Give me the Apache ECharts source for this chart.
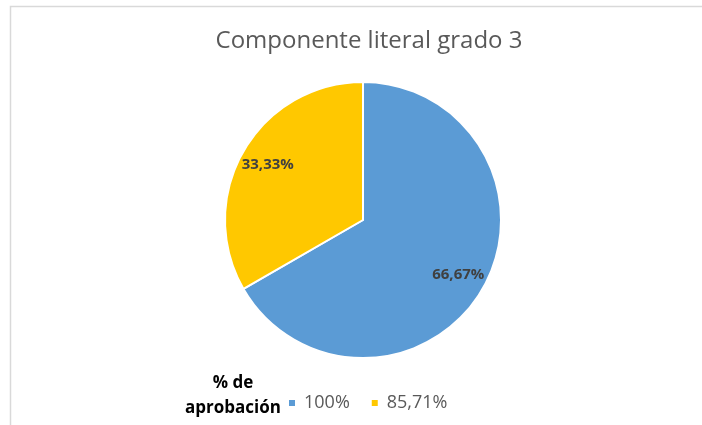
<!DOCTYPE html>
<html>
<head>
<meta charset="utf-8">
<script src="https://cdn.jsdelivr.net/npm/echarts@6/dist/echarts.min.js"></script>
<style>
  html, body { margin: 0; padding: 0; background: #fff; }
  #chart { width: 702px; height: 425px; }
</style>
</head>
<body>
<div id="chart"></div>
<script>
// Componente literal grado 3
const categories = ["100%", "85,71%"];
const values = [66.67, 33.33];
const colors = ["#5B9BD5", "#FFC800"];

const font = "'Open Sans', 'Noto Sans', sans-serif";
const pieData = categories.map((name, i) => ({
  name: name,
  value: values[i],
  itemStyle: { color: colors[i] },
}));

const chart = echarts.init(document.getElementById("chart"));
chart.setOption({
  backgroundColor: "#fff",
  animation: false,
  graphic: [
    {
      type: "rect",
      shape: { x: 10.5, y: 6.5, width: 800, height: 500 },
      style: { fill: "none", stroke: "#d9d9d9", lineWidth: 1.5 },
      silent: true,
    },
  ],
  title: [
    {
      text: "Componente literal grado 3",
      left: 364,
      top: 24,
      textAlign: "center",
      textStyle: { color: "#595959", fontSize: 24, fontWeight: "normal", fontFamily: font },
    },
    {
      text: "% de\naprobación",
      left: 228,
      top: 366,
      textAlign: "center",
      textStyle: { color: "#000", fontSize: 17, fontWeight: "bold", fontFamily: font, lineHeight: 25 },
    },
  ],
  legend: {
    data: categories,
    left: 282,
    top: 389,
    icon: "rect",
    itemWidth: 8,
    itemHeight: 8,
    itemGap: 20,
    textStyle: { color: "#595959", fontSize: 18, fontFamily: font, padding: [0, 0, 0, 3] },
  },
  series: [
    {
      type: "pie",
      center: [363, 220],
      radius: [0, 138],
      startAngle: 90,
      clockwise: true,
      data: pieData,
      label: { show: false },
      labelLine: { show: false },
      itemStyle: { borderColor: "#fff", borderWidth: 2 },
      emphasis: { disabled: true },
    },
    {
      // transparent ring only used to place the labels
      type: "pie",
      center: [363, 220],
      radius: [76, 138],
      startAngle: 90,
      clockwise: true,
      silent: true,
      data: pieData.map((d) => ({ name: d.name, value: d.value })),
      itemStyle: { color: "rgba(0,0,0,0)" },
      label: {
        show: true,
        position: "inside",
        color: "#404040",
        fontSize: 15,
        fontWeight: "bold",
        fontFamily: font,
        formatter: (p) => p.percent.toFixed(2).replace(".", ",") + "%",
      },
      labelLine: { show: false },
      emphasis: { disabled: true },
    },
  ],
});
</script>
</body>
</html>
